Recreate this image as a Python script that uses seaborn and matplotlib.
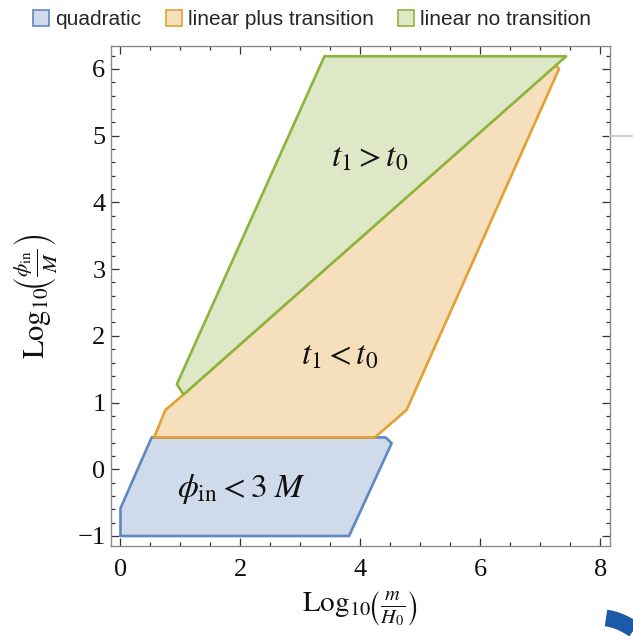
import numpy as np
import pandas as pd
import seaborn as sns
import matplotlib
matplotlib.use("Agg")
import matplotlib.pyplot as plt
from matplotlib.patches import Patch
from matplotlib.lines import Line2D
from matplotlib.ticker import MultipleLocator

# Region boundaries in (log10(m/H0), log10(phi_in/M))
quad_x = [0.00, 0.00, 0.52, 4.42, 4.52, 3.81]
quad_y = [-1.00, -0.585, 0.477, 0.477, 0.39, -1.00]

lin_tr_x = [0.56, 0.75, 1.05, 7.26, 7.31, 4.77, 4.24]
lin_tr_y = [0.477, 0.89, 1.12, 6.06, 6.00, 0.89, 0.477]

lin_notr_x = [0.94, 1.05, 7.43, 3.40]
lin_notr_y = [1.275, 1.12, 6.19, 6.19]

region_names = ["quadratic", "linear plus transition", "linear no transition"]
fill_colors = ["#cfdbea", "#f6dfbd", "#dee8c6"]
edge_colors = ["#5f88c2", "#e3a131", "#8cb43c"]

region_labels = [r"$\phi_{\mathrm{in}} < 3\ M$", r"$t_1 < t_0$", r"$t_1 > t_0$"]
label_x = [2.02, 3.66, 4.16]
label_y = [-0.30, 1.69, 4.66]

x_ticks = [0, 2, 4, 6, 8]
y_ticks = [-1, 0, 1, 2, 3, 4, 5, 6]

sns.set_theme(style="ticks")
plt.rcParams["mathtext.fontset"] = "stix"
plt.rcParams["font.family"] = ["Liberation Serif", "DejaVu Serif"]

W, H = 633, 639
fig = plt.figure(figsize=(W / 100, H / 100), dpi=100)
ax = fig.add_axes([111 / W, (H - 546) / H, 499 / W, 500 / H])

polys = pd.DataFrame({
    "x": quad_x + lin_tr_x + lin_notr_x,
    "y": quad_y + lin_tr_y + lin_notr_y,
    "region": [region_names[0]] * len(quad_x)
    + [region_names[1]] * len(lin_tr_x)
    + [region_names[2]] * len(lin_notr_x),
})

for name, fc, ec in zip(region_names, fill_colors, edge_colors):
    d = polys[polys["region"] == name]
    ax.fill(d["x"], d["y"], facecolor=fc, edgecolor=ec, linewidth=1.9,
            joinstyle="round", zorder=2)

for txt, tx, ty in zip(region_labels, label_x, label_y):
    ax.text(tx, ty, txt, ha="center", va="center", fontsize=24,
            color="#111111", zorder=4)

ax.set_xlim(-0.158, 8.16)
ax.set_ylim(-1.15, 6.344)
ax.set_xticks(x_ticks)
ax.set_yticks(y_ticks)
ax.xaxis.set_minor_locator(MultipleLocator(0.5))
ax.yaxis.set_minor_locator(MultipleLocator(0.2))
ax.tick_params(which="both", direction="in", top=True, right=True,
               color="#333333", width=0.9)
ax.tick_params(which="major", length=5.5)
ax.tick_params(which="minor", length=3)
ax.tick_params(axis="x", which="major", pad=9, labelsize=19, labelcolor="#111111")
ax.tick_params(axis="y", which="major", pad=4, labelsize=19, labelcolor="#111111")
for s in ax.spines.values():
    s.set_color("#8a8a8a")
    s.set_linewidth(1.0)

ax.set_xlabel(r"$\mathrm{Log}_{10}\!\left(\frac{m}{H_0}\right)$", fontsize=21,
              color="#111111", labelpad=6)
ax.set_ylabel(r"$\mathrm{Log}_{10}\!\left(\frac{\phi_{\mathrm{in}}}{M}\right)$",
              fontsize=22, color="#111111", labelpad=13)

handles = [Patch(facecolor=fc, edgecolor=ec, linewidth=1.2)
           for fc, ec in zip(fill_colors, edge_colors)]
fig.legend(handles, region_names, loc="upper left",
           bbox_to_anchor=(25 / W, 1 - 2 / H), ncol=3, frameon=False,
           prop={"family": "Liberation Sans", "size": 15},
           handlelength=0.77, handleheight=0.77, handletextpad=0.3,
           columnspacing=1.15, borderaxespad=0.0)

# thin grey rule at right edge and blue stroke in the lower-right corner
fig.add_artist(Line2D([610 / W, 1.0], [1 - 136 / H, 1 - 136 / H],
                      transform=fig.transFigure, color="#cfcfcf", linewidth=1.5))
arc_t = np.linspace(0, 1, 20)
arc_px = 606 + 30 * arc_t
arc_py = 618 + 4 * arc_t + 9 * arc_t ** 2
fig.add_artist(Line2D(arc_px / W, 1 - arc_py / H, transform=fig.transFigure,
                      color="#1a5aa6", linewidth=12, solid_capstyle="butt"))

fig.savefig("out.png", dpi=100)
